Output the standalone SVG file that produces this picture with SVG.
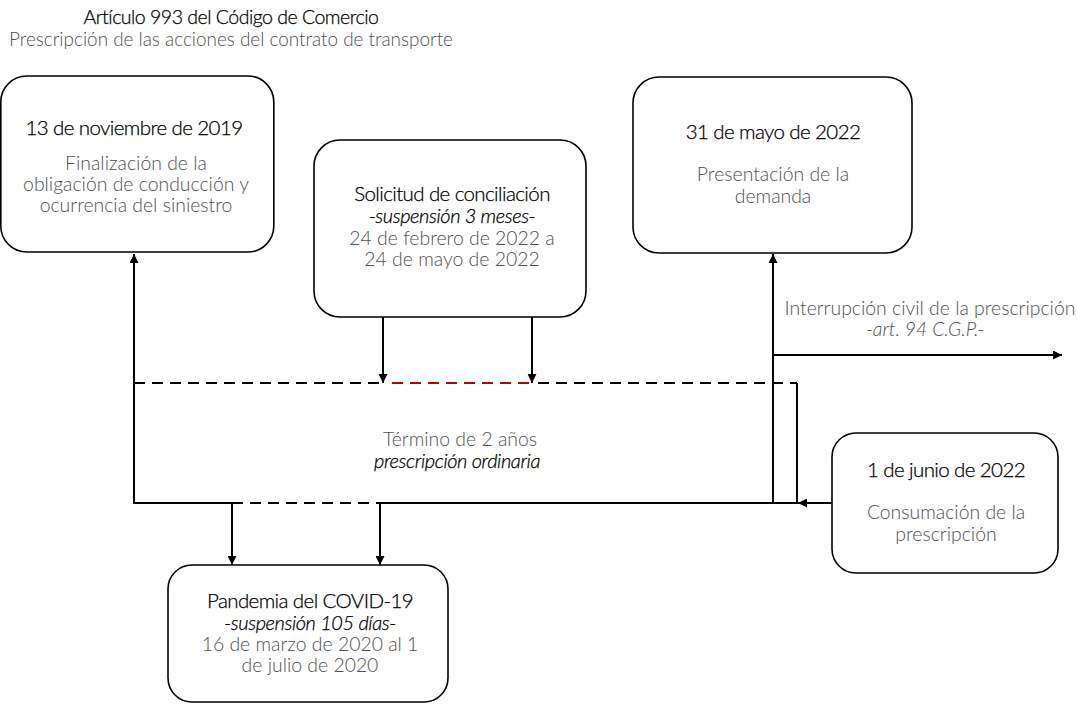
<svg xmlns="http://www.w3.org/2000/svg" width="1077" height="704" viewBox="0 0 1077 704">
<defs>
<marker id="ah" viewBox="0 0 10 10" refX="10" refY="5" markerWidth="9" markerHeight="9" markerUnits="userSpaceOnUse" orient="auto">
<path d="M0,0 L10,5 L0,10 z" fill="#000"/>
</marker>
<style>
.box{fill:#fff;stroke:#000;stroke-width:1.6}
.ln{fill:none;stroke:#000;stroke-width:2}
.ds{fill:none;stroke:#000;stroke-width:2;stroke-dasharray:11 7}
.rd{fill:none;stroke:#c00000;stroke-width:2;stroke-dasharray:11 7}
.arr{marker-end:url(#ah)}
text{font-family:Lato,"Open Sans","Liberation Sans",sans-serif;text-anchor:middle}
.h{font-size:20.5px;fill:#000;font-weight:300;letter-spacing:-0.6px;stroke:#000;stroke-width:0.25px}
.g{font-size:19.4px;fill:#505050;font-weight:300}
.i{font-size:20px;fill:#000;font-weight:300;font-style:italic;letter-spacing:-0.4px;stroke:#000;stroke-width:0.25px}
.gi{font-size:19.4px;fill:#505050;font-style:italic;font-weight:300}
.t1{font-size:19.5px;fill:#000;font-weight:300;letter-spacing:-0.5px;stroke:#000;stroke-width:0.25px}
.t2{font-size:18.9px;fill:#505050;font-weight:300}
</style>
</defs>
<g id="title">
<text class="t1" x="231" y="24">Artículo 993 del Código de Comercio</text>
<text class="t2" x="231" y="46">Prescripción de las acciones del contrato de transporte</text>
</g>
<g id="connectors">
<path class="ln arr" d="M134,503 V254"/>
<path class="ln" d="M133,503 H232"/>
<path class="ds" d="M232,503 H380"/>
<path class="ln" d="M380,503 H797 V383"/>
<path class="ln arr" d="M832,503 H798"/>
<path class="ds" d="M134,383 H383"/>
<path class="rd" d="M392,383 H532"/>
<path class="ds" d="M538,383 H797"/>
<path class="ln arr" d="M383,317 V383"/>
<path class="ln arr" d="M532,317 V383"/>
<path class="ln arr" d="M232,503 V565"/>
<path class="ln arr" d="M380,503 V565"/>
<path class="ln arr" d="M773,503 V254"/>
<path class="ln arr" d="M773,355 H1062"/>
</g>
<g id="node-nov2019">
<rect class="box" x="0.8" y="76" width="273" height="176" rx="26"/>
<text class="h" x="134" y="135">13 de noviembre de 2019</text>
<text class="g" x="136" y="170">Finalización de la</text>
<text class="g" x="136" y="191">obligación de conducción y</text>
<text class="g" x="136" y="212">ocurrencia del siniestro</text>
</g>
<g id="node-conciliacion">
<rect class="box" x="314" y="140" width="272" height="177" rx="26"/>
<text class="h" x="452" y="201">Solicitud de conciliación</text>
<text class="i" x="452" y="223">-suspensión 3 meses-</text>
<text class="g" x="452" y="245">24 de febrero de 2022 a</text>
<text class="g" x="452" y="266">24 de mayo de 2022</text>
</g>
<g id="node-demanda">
<rect class="box" x="633" y="77" width="279" height="176" rx="26"/>
<text class="h" x="773" y="139">31 de mayo de 2022</text>
<text class="g" x="773" y="181">Presentación de la</text>
<text class="g" x="773" y="203">demanda</text>
</g>
<g id="node-consumacion">
<rect class="box" x="832" y="433" width="226" height="140" rx="24"/>
<text class="h" x="946" y="477">1 de junio de 2022</text>
<text class="g" x="946" y="519">Consumación de la</text>
<text class="g" x="946" y="541">prescripción</text>
</g>
<g id="node-covid">
<rect class="box" x="168" y="565" width="280" height="137" rx="24"/>
<text class="h" x="310" y="608">Pandemia del COVID-19</text>
<text class="i" x="310" y="630">-suspensión 105 días-</text>
<text class="g" x="310" y="651">16 de marzo de 2020 al 1</text>
<text class="g" x="310" y="672">de julio de 2020</text>
</g>
<g id="label-interrupcion">
<text class="g" x="930" y="315">Interrupción civil de la prescripción</text>
<text class="gi" x="925" y="336">-art. 94 C.G.P.-</text>
</g>
<g id="label-termino">
<text class="g" x="460" y="446">Término de 2 años</text>
<text class="i" x="457" y="468">prescripción ordinaria</text>
</g>
</svg>
